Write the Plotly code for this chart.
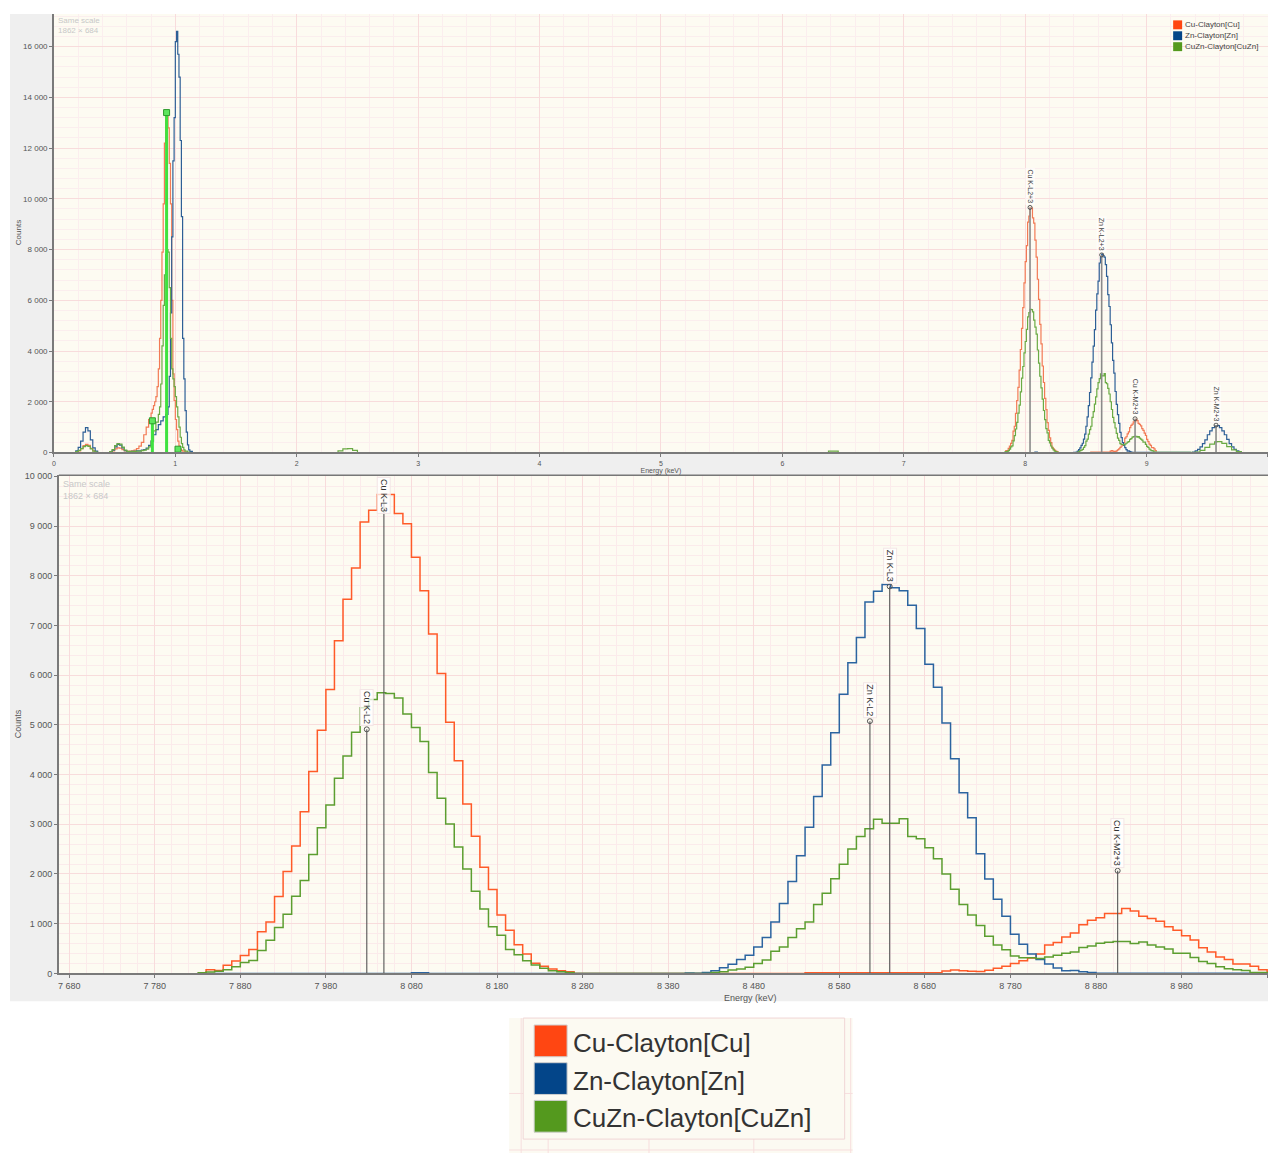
import plotly.graph_objects as go

W, H = 1268, 1158

# ---------------- Bottom panel data: 10 eV bins, left edges from 7830 eV ----------------
BIN0_EV = 7830
BIN_EV = 10
cu_counts = ([0, 75, 60, 165, 250, 360, 480, 840, 1035, 1545, 2050, 2565, 3250, 4060, 4890,
              5710, 6690, 7525, 8155, 9080, 9315, 9635, 9635, 9250, 9045,
              8370, 7700, 6830, 6035, 5050, 4280, 3410, 2760, 2135, 1690,
              1175, 870, 575, 390, 205, 145, 90, 55, 35, 0]
             + [0] * 26 + [15] * 16
             + [50, 70, 55, 45, 40, 65, 105, 145, 200, 255,
                310, 390, 570, 620, 730, 815, 980, 1070, 1120, 1205,
                1205, 1305, 1255, 1150, 1105, 1050, 940, 870, 760, 670,
                515, 430, 330, 280, 190, 190, 145, 75, 40])
zn_counts = ([0] * 25 + [15, 15] + [0] * 30
             + [10, 5, 20, 55, 115, 185, 280, 365, 530, 720,
                1035, 1405, 1850, 2365, 2940, 3560, 4190, 4840, 5615, 6250,
                6755, 7470, 7690, 7825, 7760, 7700, 7405, 6940, 6220, 5755,
                5035, 4320, 3635, 3130, 2405, 1900, 1490, 1150, 790, 585,
                390, 280, 190, 110, 55, 60, 35, 20]
             + [5] * 21)
cuzn_counts = ([15, 30, 45, 75, 135, 220, 260, 460, 665, 925,
                1190, 1550, 1870, 2390, 2930, 3390, 3925, 4375, 4850, 5345,
                5510, 5645, 5630, 5540, 5220, 4945, 4665, 4040, 3525, 3005,
                2545, 2100, 1655, 1295, 940, 770, 480, 375, 255, 170,
                105, 55, 35, 20, 0]
               + [0] * 15
               + [20, 35, 70, 90, 125, 200, 270, 445, 530, 720,
                  900, 1035, 1385, 1610, 1905, 2195, 2505, 2755, 2910, 3100,
                  3020, 3020, 3110, 2755, 2710, 2530, 2305, 2000, 1695, 1385,
                  1175, 965, 750, 570, 475, 350, 315, 315, 300, 330,
                  365, 405, 430, 520, 550, 605, 625, 640, 640, 600,
                  630, 570, 530, 490, 405, 405, 320, 240, 200, 135,
                  95, 75, 60, 20, 20, 10])
energies_ev = [BIN0_EV + BIN_EV * i for i in range(len(cu_counts))]

# ---------------- Top panel extra data (keV) ----------------
cu_low_kev = [0.16, 0.18, 0.20, 0.22, 0.24, 0.26, 0.28, 0.30, 0.32, 0.34, 0.36,
              0.44, 0.46, 0.48, 0.50, 0.52, 0.54, 0.56, 0.58, 0.60, 0.62, 0.64, 0.66, 0.68,
              0.70, 0.72, 0.74, 0.76, 0.78, 0.80, 0.81, 0.82, 0.83, 0.84, 0.85, 0.86, 0.87,
              0.88, 0.89, 0.90, 0.91, 0.92, 0.93, 0.94, 0.95, 0.96, 0.97, 0.98, 0.99, 1.00,
              1.01, 1.02, 1.03, 1.04, 1.05, 1.06, 1.08, 1.10]
cu_low_counts = [0, 20, 60, 150, 270, 320, 280, 160, 60, 20, 0,
                 0, 20, 60, 140, 180, 170, 110, 60, 45, 50, 60, 90, 150,
                 250, 400, 700, 1000, 1300, 1550, 1700, 1850, 2000, 2200, 2600, 3300, 4500,
                 6000, 7900, 9800, 12200, 13300, 13400, 12800, 11400, 9800, 6000, 3100, 2050, 1300,
                 900, 450, 250, 130, 80, 50, 20, 0]
zn_low_kev = [0.16, 0.18, 0.20, 0.22, 0.24, 0.26, 0.28, 0.30, 0.32, 0.34, 0.36,
              0.44, 0.46, 0.48, 0.50, 0.52, 0.54, 0.56, 0.58, 0.60, 0.64, 0.68, 0.72,
              0.74, 0.76, 0.78, 0.80, 0.82, 0.84, 0.86, 0.88, 0.90, 0.92, 0.94, 0.95,
              0.96, 0.97, 0.98, 0.99, 1.00, 1.01, 1.02, 1.03, 1.04, 1.05, 1.06, 1.07,
              1.08, 1.09, 1.10, 1.11, 1.12, 1.14]
zn_low_counts = [0, 60, 200, 450, 800, 980, 850, 500, 180, 50, 0,
                 0, 20, 90, 220, 320, 290, 180, 70, 30, 40, 60, 90,
                 110, 170, 280, 450, 700, 900, 1100, 1250, 1400, 1500, 1800, 3000,
                 5500, 8500, 11500, 13200, 16200, 16600, 15700, 14800, 12300, 9300, 4500, 2900,
                 1650, 800, 300, 100, 40, 0]
cuzn_low_kev = [0.16, 0.18, 0.20, 0.22, 0.24, 0.26, 0.28, 0.30, 0.32, 0.34, 0.36,
                0.44, 0.46, 0.48, 0.50, 0.52, 0.54, 0.56, 0.58, 0.60, 0.64, 0.68, 0.72,
                0.74, 0.76, 0.78, 0.80, 0.82, 0.84, 0.86, 0.87, 0.88, 0.89, 0.90, 0.91,
                0.92, 0.93, 0.94, 0.95, 0.96, 0.97, 0.98, 0.99, 1.00, 1.01, 1.02, 1.03,
                1.04, 1.05, 1.06, 1.07, 1.08, 1.10, 1.12,
                2.30, 2.34, 2.38, 2.42, 2.46, 2.50,
                6.36, 6.38, 6.42, 6.46]
cuzn_low_counts = [0, 30, 80, 150, 230, 270, 240, 140, 50, 15, 0,
                   0, 30, 110, 270, 350, 330, 210, 90, 40, 40, 50, 70,
                   90, 130, 220, 450, 850, 1200, 1500, 1800, 2700, 4200, 5800, 7000,
                   7800, 8000, 7900, 6500, 4500, 3300, 2900, 2600, 2200, 1800, 1400, 1000,
                   600, 350, 200, 100, 50, 20, 0,
                   0, 60, 140, 150, 80, 0,
                   0, 50, 50, 0]
zn_kb_kev = [9.36, 9.38, 9.40, 9.42, 9.44, 9.46, 9.48, 9.50, 9.52, 9.54, 9.56,
             9.58, 9.60, 9.62, 9.64, 9.66, 9.68, 9.70, 9.72, 9.74, 9.76, 9.78]
zn_kb_counts = [0, 20, 60, 120, 220, 350, 500, 700, 850, 980, 1040,
                1060, 980, 850, 700, 520, 350, 220, 120, 60, 20, 0]
cuzn_kb_kev = [9.38, 9.40, 9.44, 9.48, 9.52, 9.56, 9.58, 9.62, 9.66, 9.70, 9.74, 9.78]
cuzn_kb_counts = [0, 20, 80, 200, 330, 420, 430, 360, 230, 100, 30, 0]

# bright green KLM markers (top panel, keV / counts)
klm_kev = [0.811, 0.928, 1.022]
klm_counts = [1250, 13400, 130]

# peak identification lines
top_lines_kev = [8.040, 8.630, 8.905, 9.572]
top_lines_counts = [9660, 7790, 1330, 1080]
top_lines_labels = ["Cu K-L2+3", "Zn K-L2+3", "Cu K-M2+3", "Zn K-M2+3"]
bot_lines_ev = [8047.8, 8027.8, 8638.9, 8615.8, 8905.3]
bot_lines_counts = [9640, 4910, 7785, 5075, 2065]
bot_lines_labels = ["Cu K-L3", "Cu K-L2", "Zn K-L3", "Zn K-L2", "Cu K-M2+3"]

series_names = ["Cu-Clayton[Cu]", "Zn-Clayton[Zn]", "CuZn-Clayton[CuZn]"]
swatch_colors = ["#ff4612", "#034589", "#54991e"]

# ---------------- styling ----------------
COL_BOT = ["#ff5a28", "#2b64a0", "#5c9e30"]
COL_TOP = ["#f27a55", "#2d5f96", "#6aaa44"]
FONT = "Liberation Sans, Arial, sans-serif"
CREAM = "#fdfbf2"
GRAY = "#efefef"


def px(x):
    return x / W


def py(y):
    return 1 - y / H


def steps(x, y, width):
    return list(x) + [x[-1] + width], list(y) + [y[-1]]


fig = go.Figure()

# ---- top panel traces ----
top_series = [
    (cu_low_kev + [e / 1000 for e in energies_ev], cu_low_counts + cu_counts),
    (zn_low_kev + [e / 1000 for e in energies_ev] + zn_kb_kev, zn_low_counts + zn_counts + zn_kb_counts),
    (cuzn_low_kev + [e / 1000 for e in energies_ev] + cuzn_kb_kev, cuzn_low_counts + cuzn_counts + cuzn_kb_counts),
]
for (xs, ys), col, name in zip(top_series, COL_TOP, series_names):
    fig.add_trace(go.Scatter(x=xs, y=ys, mode="lines", line=dict(color=col, width=1.2, shape="hv"),
                             name=name, showlegend=False, xaxis="x", yaxis="y", hoverinfo="skip"))

# KLM bright green markers
kx, ky = [], []
for e, c in zip(klm_kev, klm_counts):
    kx += [e, e, None]
    ky += [0, c, None]
fig.add_trace(go.Scatter(x=kx, y=ky, mode="lines", line=dict(color="#3fe23f", width=3),
                         showlegend=False, xaxis="x", yaxis="y", hoverinfo="skip"))
fig.add_trace(go.Scatter(x=klm_kev, y=klm_counts, mode="markers",
                         marker=dict(symbol="square", size=6, color="#5ee65e", line=dict(color="#2c9a2c", width=1)),
                         showlegend=False, xaxis="x", yaxis="y", hoverinfo="skip"))

# top peak id lines
lx, ly = [], []
for e, c in zip(top_lines_kev, top_lines_counts):
    lx += [e, e, None]
    ly += [0, c, None]
fig.add_trace(go.Scatter(x=lx, y=ly, mode="lines", line=dict(color="#8a8a8a", width=1.6),
                         showlegend=False, xaxis="x", yaxis="y", hoverinfo="skip"))
fig.add_trace(go.Scatter(x=top_lines_kev, y=top_lines_counts, mode="markers",
                         marker=dict(symbol="circle-open", size=4, color="#555", line=dict(width=1)),
                         showlegend=False, xaxis="x", yaxis="y", hoverinfo="skip"))

# ---- bottom panel traces ----
for counts, col, name in zip([cu_counts, zn_counts, cuzn_counts], COL_BOT, series_names):
    sx, sy = steps(energies_ev, counts, BIN_EV)
    fig.add_trace(go.Scatter(x=sx, y=sy, mode="lines", line=dict(color=col, width=1.5, shape="hv"),
                             name=name, showlegend=False, xaxis="x2", yaxis="y2", hoverinfo="skip"))

bx, by = [], []
for e, c in zip(bot_lines_ev, bot_lines_counts):
    bx += [e, e, None]
    by += [0, c, None]
fig.add_trace(go.Scatter(x=bx, y=by, mode="lines", line=dict(color="#555555", width=1.1),
                         showlegend=False, xaxis="x2", yaxis="y2", hoverinfo="skip"))
fig.add_trace(go.Scatter(x=bot_lines_ev[1:], y=bot_lines_counts[1:], mode="markers",
                         marker=dict(symbol="circle-open", size=5, color="#555", line=dict(width=1)),
                         showlegend=False, xaxis="x2", yaxis="y2", hoverinfo="skip"))

# ---------------- shapes: backgrounds ----------------
shapes = [
    dict(type="rect", xref="paper", yref="paper", x0=px(8), x1=px(1268), y0=py(1005), y1=py(10),
         fillcolor=GRAY, line=dict(width=0), layer="below"),
    dict(type="rect", xref="x domain", yref="y domain", x0=0, x1=1, y0=0, y1=1,
         fillcolor=CREAM, line=dict(width=0), layer="below"),
    dict(type="rect", xref="x2 domain", yref="y2 domain", x0=0, x1=1, y0=0, y1=1,
         fillcolor=CREAM, line=dict(width=0), layer="below"),
    # top border of bottom plot
    dict(type="line", xref="paper", yref="paper", x0=px(57), x1=1, y0=py(475), y1=py(475),
         line=dict(color="#777", width=1.5)),
    # legend crop
    dict(type="rect", xref="paper", yref="paper", x0=px(508), x1=px(852), y0=py(1158), y1=py(1022),
         fillcolor="#fcfaf2", line=dict(width=0), layer="below"),
]
for xv in [520, 547, 648, 753, 850]:
    shapes.append(dict(type="line", xref="paper", yref="paper", x0=px(xv), x1=px(xv), y0=py(1158), y1=py(1022),
                       line=dict(color="#f7dede", width=1), layer="below"))
for yv in [1098, 1155]:
    shapes.append(dict(type="line", xref="paper", yref="paper", x0=px(508), x1=px(852), y0=py(yv), y1=py(yv),
                       line=dict(color="#f7dede", width=1), layer="below"))
shapes.append(dict(type="rect", xref="paper", yref="paper", x0=px(522), x1=px(844), y0=py(1144), y1=py(1022),
                   fillcolor="#fcfaf2", line=dict(color="#f0d6d6", width=1), layer="below"))

annotations = []

# big legend (manual)
for i, (name, col) in enumerate(zip(series_names, swatch_colors)):
    yc = 1045 + 38 * i
    shapes.append(dict(type="rect", xref="paper", yref="paper", x0=px(533), x1=px(566),
                       y0=py(yc + 16), y1=py(yc - 16), fillcolor=col, line=dict(color="#cfcfcf", width=1)))
    annotations.append(dict(text=name, xref="paper", yref="paper", x=px(570), y=py(yc + 2),
                            xanchor="left", yanchor="middle", showarrow=False,
                            font=dict(family=FONT, size=26, color="#333")))

# small legend in top panel
for i, (name, col) in enumerate(zip(series_names, swatch_colors)):
    yc = 21 + 11 * i
    shapes.append(dict(type="rect", xref="paper", yref="paper", x0=px(1173), x1=px(1182),
                       y0=py(yc + 4.5), y1=py(yc - 4.5), fillcolor=col, line=dict(width=0)))
    annotations.append(dict(text=name, xref="paper", yref="paper", x=px(1183), y=py(yc),
                            xanchor="left", yanchor="middle", showarrow=False,
                            font=dict(family=FONT, size=8, color="#444")))

# "Same scale" watermark texts
annotations += [
    dict(text="Same scale", xref="paper", yref="paper", x=px(54), y=py(17), xanchor="left", yanchor="middle",
         showarrow=False, font=dict(family=FONT, size=8, color="#c8c8c8")),
    dict(text="1862 × 684", xref="paper", yref="paper", x=px(54), y=py(27), xanchor="left", yanchor="middle",
         showarrow=False, font=dict(family=FONT, size=8, color="#c8c8c8")),
    dict(text="Same scale", xref="paper", yref="paper", x=px(59), y=py(484), xanchor="left", yanchor="middle",
         showarrow=False, font=dict(family=FONT, size=9, color="#c8c8c8")),
    dict(text="1862 × 684", xref="paper", yref="paper", x=px(59), y=py(496), xanchor="left", yanchor="middle",
         showarrow=False, font=dict(family=FONT, size=9, color="#c8c8c8")),
]

# axis titles
annotations += [
    dict(text="Counts", xref="paper", yref="paper", x=px(16), y=py(230), textangle=-90, showarrow=False,
         xanchor="center", yanchor="middle", font=dict(family=FONT, size=8, color="#555")),
    dict(text="Counts", xref="paper", yref="paper", x=px(16), y=py(725), textangle=-90, showarrow=False,
         xanchor="center", yanchor="middle", font=dict(family=FONT, size=9, color="#555")),
    dict(text="Energy (keV)", xref="paper", yref="paper", x=px(750), y=py(995), showarrow=False,
         xanchor="center", yanchor="top", font=dict(family=FONT, size=9, color="#555")),
]

# peak labels top
for e, c, lab in zip(top_lines_kev, top_lines_counts, top_lines_labels):
    annotations.append(dict(text=lab, x=e, y=c, xref="x", yref="y", textangle=90, showarrow=False,
                            xanchor="center", yanchor="bottom", yshift=2,
                            font=dict(family=FONT, size=7, color="#444"),
                            bgcolor="rgba(255,255,255,0.5)"))
# peak labels bottom
for e, c, lab in zip(bot_lines_ev, bot_lines_counts, bot_lines_labels):
    if lab == "Cu K-L3":
        annotations.append(dict(text=lab, x=e, y=10020, xref="x2", yref="y2", textangle=90, showarrow=False,
                                xanchor="center", yanchor="top", yshift=-2,
                                font=dict(family=FONT, size=9, color="#333"),
                                bgcolor="rgba(255,255,255,0.75)", bordercolor="#f3e6e6", borderwidth=1))
    else:
        annotations.append(dict(text=lab, x=e, y=c, xref="x2", yref="y2", textangle=90, showarrow=False,
                                xanchor="center", yanchor="bottom", yshift=3,
                                font=dict(family=FONT, size=9, color="#333"),
                                bgcolor="rgba(255,255,255,0.75)", bordercolor="#f3e6e6", borderwidth=1))

axis_common = dict(showgrid=True, gridcolor="#f8dcdc", gridwidth=1, zeroline=False,
                   showline=True, linecolor="#7a7a7a", linewidth=1.5, ticks="outside",
                   ticklen=3, tickcolor="#7a7a7a", separatethousands=True, exponentformat="none")

fig.update_layout(
    width=W, height=H,
    margin=dict(l=0, r=0, t=0, b=0),
    paper_bgcolor="white", plot_bgcolor="rgba(0,0,0,0)",
    separators=". ",
    showlegend=False,
    font=dict(family=FONT, color="#555"),
    xaxis=dict(domain=[px(52), 1], anchor="y", range=[0, 10], tick0=0, dtick=1,
               tickfont=dict(size=7, color="#555"),
               title=dict(text="Energy (keV)", font=dict(size=7, color="#555"), standoff=1),
               minor=dict(dtick=0.2, showgrid=True, gridcolor="#fbeeee"), **axis_common),
    yaxis=dict(domain=[py(452), py(10)], anchor="x", range=[0, 17290], tick0=0, dtick=2000,
               tickfont=dict(size=8, color="#555"),
               minor=dict(dtick=400, showgrid=True, gridcolor="#fbeeee"), **axis_common),
    xaxis2=dict(domain=[px(57), 1], anchor="y2", range=[7668, 9081], tick0=7680, dtick=100,
                tickfont=dict(size=9, color="#555"),
                minor=dict(dtick=20, tick0=7680, showgrid=True, gridcolor="#fbebeb"), **axis_common),
    yaxis2=dict(domain=[py(977), py(475)], anchor="x2", range=[0, 10020], tick0=0, dtick=1000,
                tickfont=dict(size=9, color="#555"),
                minor=dict(dtick=200, showgrid=True, gridcolor="#fbebeb"), **axis_common),
    shapes=shapes,
    annotations=annotations,
)

fig.write_html("out.html", config={"displayModeBar": False},
               post_script="document.body.style.margin='0';document.body.style.padding='0';")
